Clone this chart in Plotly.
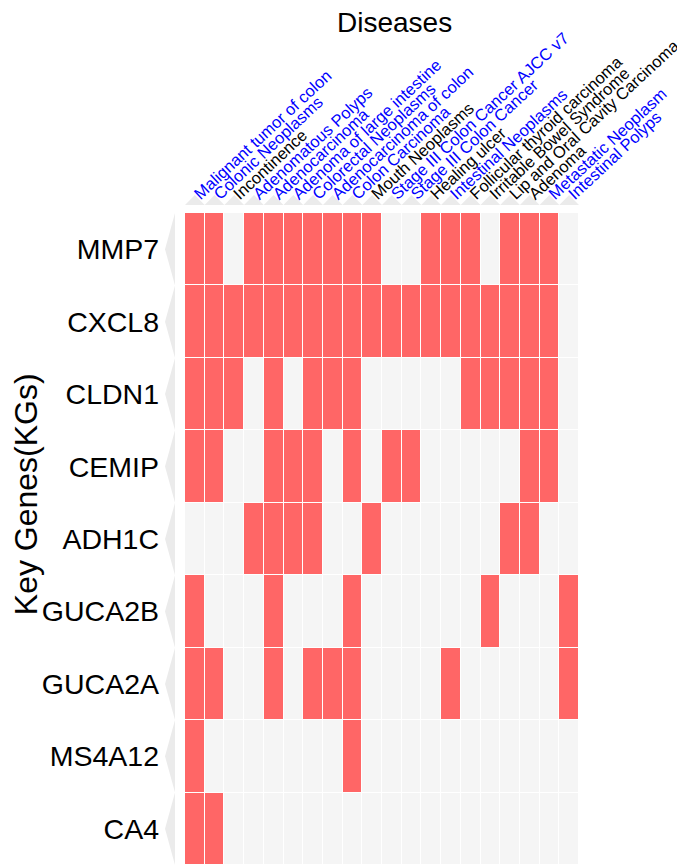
import plotly.graph_objects as go

diseases = [
    "Malignant tumor of colon", "Colonic Neoplasms", "Incontinence",
    "Adenomatous Polyps", "Adenocarcinoma", "Adenoma of large intestine",
    "Colorectal Neoplasms", "Adenocarcinoma of colon", "Colon Carcinoma",
    "Mouth Neoplasms", "Stage III Colon Cancer AJCC v7", "Stage III Colon Cancer",
    "Healing ulcer", "Intestinal Neoplasms", "Follicular thyroid carcinoma",
    "Irritable Bowel Syndrome", "Lip and Oral Cavity Carcinoma", "Adenoma",
    "Metastatic Neoplasm", "Intestinal Polyps",
]
disease_colors = [
    "blue", "blue", "black", "blue", "blue", "blue", "blue", "blue", "blue",
    "black", "blue", "blue", "black", "blue", "black", "black", "black",
    "black", "blue", "blue",
]
genes = ["MMP7", "CXCL8", "CLDN1", "CEMIP", "ADH1C", "GUCA2B", "GUCA2A", "MS4A12", "CA4"]

MMP7   = [1,1,0,1,1,1,1,1,1,1,0,0,1,1,1,0,1,1,1,0]
CXCL8  = [1,1,1,1,1,1,1,1,1,1,1,1,1,1,1,1,1,1,1,0]
CLDN1  = [1,1,1,0,1,0,1,1,1,0,0,0,0,0,1,1,1,1,1,0]
CEMIP  = [1,1,0,0,1,1,1,0,1,0,1,1,0,0,0,0,0,1,1,0]
ADH1C  = [0,0,0,1,1,1,1,0,0,1,0,0,0,0,0,0,1,1,0,0]
GUCA2B = [1,0,0,0,1,0,0,0,1,0,0,0,0,0,0,1,0,0,0,1]
GUCA2A = [1,1,0,0,1,0,1,1,1,0,0,0,0,1,0,0,0,0,0,1]
MS4A12 = [1,0,0,0,0,0,0,0,1,0,0,0,0,0,0,0,0,0,0,0]
CA4    = [1,1,0,0,0,0,0,0,0,0,0,0,0,0,0,0,0,0,0,0]

z = [MMP7, CXCL8, CLDN1, CEMIP, ADH1C, GUCA2B, GUCA2A, MS4A12, CA4]

W, H = 685, 867
PW, PH = 394.5, 652
ML, MT = 177, 205
MR = W - ML - PW
MB = H - MT - PH
FONT = "Liberation Sans, Arial, sans-serif"

fig = go.Figure(go.Heatmap(
    z=z, x=list(range(len(diseases))), y=list(range(len(genes))),
    colorscale=[[0, "#F5F5F5"], [1, "#FF6666"]], zmin=0, zmax=1,
    showscale=False, xgap=1, ygap=1, hoverinfo="skip",
))

ticktext = [f'<span style="color:{c}">{d}</span>' for d, c in zip(diseases, disease_colors)]

shapes = []
tri_col = "#EBEBEB"
# top triangles (above each column)
yb = 1 + 8 / PH
ya = 1 + 18 / PH
for i in range(len(diseases)):
    shapes.append(dict(type="path", xref="x", yref="paper",
                       path=f"M {i-0.5},{yb} L {i},{ya} L {i+0.5},{yb} Z",
                       fillcolor=tri_col, line=dict(width=0), layer="below"))
# left triangles (beside each row)
xb = -10 / PW
xa = -20 / PW
for j in range(len(genes)):
    shapes.append(dict(type="path", xref="paper", yref="y",
                       path=f"M {xb},{j-0.5} L {xa},{j} L {xb},{j+0.5} Z",
                       fillcolor=tri_col, line=dict(width=0), layer="below"))

fig.update_layout(
    width=W, height=H,
    margin=dict(l=ML, r=MR, t=MT, b=MB, pad=0, autoexpand=False),
    paper_bgcolor="white", plot_bgcolor="white",
    font=dict(family=FONT, color="black"),
    xaxis=dict(side="top", tickmode="array", tickvals=list(range(len(diseases))),
               ticktext=ticktext, tickangle=-43, tickfont=dict(size=16.5, family=FONT),
               showgrid=False, zeroline=False, showline=False, ticks="",
               automargin=False, ticklabeloverflow="allow",
               ticklabelstandoff=6, range=[-0.5, len(diseases) - 0.5]),
    yaxis=dict(tickmode="array", tickvals=list(range(len(genes))), ticktext=genes,
               tickfont=dict(size=28.5, family=FONT, color="black"),
               showgrid=False, zeroline=False, showline=False, ticks="",
               automargin=False, ticklabeloverflow="allow",
               ticklabelstandoff=25, range=[len(genes) - 0.5, -0.5]),
    shapes=shapes,
    annotations=[
        dict(text="Diseases", xref="paper", yref="paper",
             x=(387 - ML) / PW, y=1 + (MT - 14) / PH, xanchor="center", yanchor="middle",
             showarrow=False, font=dict(size=28, family=FONT, color="black")),
        dict(text="Key Genes(KGs)", xref="paper", yref="paper",
             x=(18 - ML) / PW, y=(MT + PH - 486) / PH, xanchor="center", yanchor="middle",
             textangle=-90, showarrow=False, font=dict(size=32, family=FONT, color="black")),
    ],
)

fig.write_html("out.html")
